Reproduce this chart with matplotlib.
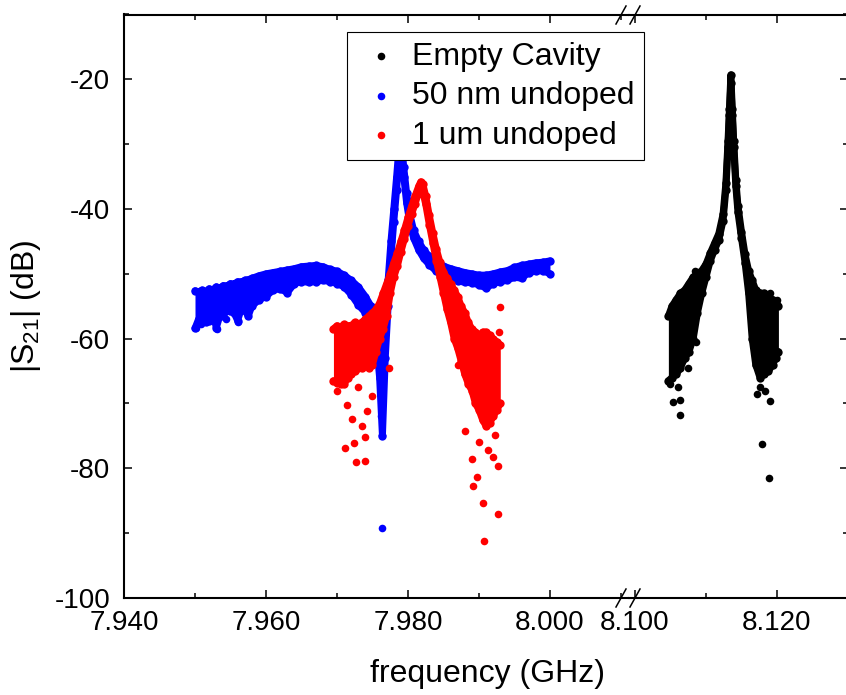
import matplotlib.pyplot as plt
from matplotlib.lines import Line2D
from matplotlib.ticker import FormatStrFormatter

plt.rcParams['font.family'] = ['Liberation Sans', 'DejaVu Sans']
plt.rcParams['mathtext.default'] = 'regular'
plt.rcParams['axes.unicode_minus'] = False

# ---- data: frequency (GHz), upper / lower edge of the dot cloud (dB)
empty_f = [8.1047, 8.1052, 8.1058, 8.1064, 8.1070, 8.1076, 8.1082, 8.1088, 8.1094, 8.1100,
           8.1106, 8.1112, 8.1118, 8.1124, 8.1128, 8.1131, 8.1133, 8.1135, 8.1137, 8.1139,
           8.1142, 8.1145, 8.1150, 8.1155, 8.1160, 8.1165, 8.1170, 8.1176, 8.1182, 8.1188,
           8.1194, 8.1198, 8.1202]
empty_hi = [-56.5, -55.0, -54.0, -53.0, -52.5, -51.5, -50.5, -50.0, -49.5, -48.5,
            -46.8, -45.3, -43.8, -40.8, -36.0, -29.5, -24.5, -19.3, -24.5, -29.5,
            -35.5, -39.5, -43.5, -47.0, -49.5, -51.0, -52.5, -53.0, -53.0, -53.5,
            -54.0, -54.5, -55.0]
empty_lo = [-66.5, -66.0, -65.5, -64.5, -63.0, -62.0, -60.0, -56.0, -53.0, -50.5,
            -48.0, -46.3, -44.8, -41.8, -37.0, -30.5, -25.5, -20.5, -25.5, -30.5,
            -36.5, -40.5, -44.5, -48.3, -53.0, -60.0, -64.0, -66.0, -65.5, -65.0,
            -64.0, -63.0, -62.0]
empty_pts_f = [8.1053, 8.1063, 8.1064, 8.1084, 8.1179, 8.1189, 8.1172, 8.1183, 8.1190, 8.1176,
               8.1060, 8.1190, 8.1050, 8.1200, 8.1074, 8.1086]
empty_pts_db = [-69.7, -69.5, -71.8, -49.5, -76.3, -81.5, -68.5, -68.0, -69.6, -67.5,
                -67.5, -53.0, -67.0, -54.0, -64.5, -60.5]

nm50_f = [7.9500, 7.9505, 7.9510, 7.9515, 7.9520, 7.9525, 7.9530, 7.9535, 7.9540, 7.9545,
          7.9550, 7.9555, 7.9560, 7.9565, 7.9570, 7.9575, 7.9580, 7.9590, 7.9600, 7.9610,
          7.9620, 7.9630, 7.9640, 7.9650, 7.9660, 7.9670, 7.9680, 7.9690, 7.9700, 7.9710,
          7.9720, 7.9730, 7.9740, 7.9748, 7.9755, 7.9760, 7.9764, 7.9768, 7.9772, 7.9776,
          7.9780, 7.9784, 7.9788, 7.9791, 7.9794, 7.9798, 7.9803, 7.9808, 7.9815, 7.9822,
          7.9830, 7.9840, 7.9850, 7.9860, 7.9870, 7.9880, 7.9890, 7.9900, 7.9910, 7.9920,
          7.9930, 7.9940, 7.9950, 7.9960, 7.9970, 7.9980, 7.9990, 8.0000]
nm50_hi = [-52.6, -52.8, -52.5, -52.8, -52.3, -52.5, -52.0, -52.2, -51.8, -51.9,
           -51.5, -51.6, -51.2, -51.3, -51.0, -50.9, -50.7, -50.3, -50.0, -49.8,
           -49.6, -49.4, -49.2, -48.9, -48.8, -48.7, -48.9, -49.3, -49.6, -50.2,
           -51.0, -52.0, -53.5, -55.0, -57.5, -60.5, -64.0, -58.0, -51.0, -45.0,
           -40.0, -35.0, -29.5, -30.0, -33.5, -37.5, -41.0, -43.3, -45.0, -46.3,
           -47.3, -48.3, -48.8, -49.2, -49.5, -49.8, -50.0, -50.2, -50.2, -50.0,
           -49.7, -49.5, -49.0, -48.7, -48.5, -48.3, -48.2, -48.0]
nm50_lo = [-58.4, -57.0, -56.5, -57.5, -57.2, -56.0, -58.3, -56.5, -56.5, -55.5,
           -55.8, -56.0, -57.2, -55.5, -55.6, -56.5, -55.0, -54.0, -53.5, -52.5,
           -52.3, -52.9, -51.5, -51.2, -51.3, -51.2, -51.0, -51.2, -51.5, -52.0,
           -53.2, -54.8, -56.0, -57.5, -60.0, -66.0, -75.0, -63.0, -55.0, -47.5,
           -42.0, -37.0, -31.0, -31.5, -35.0, -39.0, -42.5, -44.5, -46.3, -47.6,
           -48.6, -49.6, -50.3, -50.8, -51.1, -51.3, -51.4, -51.7, -52.2, -51.5,
           -51.2, -51.0, -50.5, -50.7, -49.8, -49.6, -49.5, -50.0]
nm50_pts_f = [7.97633, 7.9762, 7.9764, 7.9501, 7.9531, 7.9561, 7.9508, 7.9543]
nm50_pts_db = [-89.2, -72.0, -74.9, -58.4, -58.5, -57.5, -57.8, -57.0]

um1_f = [7.9695, 7.9700, 7.9705, 7.9710, 7.9715, 7.9720, 7.9725, 7.9730, 7.9735, 7.9740,
         7.9745, 7.9750, 7.9755, 7.9760, 7.9765, 7.9770, 7.9775, 7.9780, 7.9785, 7.9790,
         7.9795, 7.9800, 7.9805, 7.9810, 7.9815, 7.9818, 7.9821, 7.9825, 7.9830, 7.9835,
         7.9840, 7.9845, 7.9850, 7.9855, 7.9860, 7.9865, 7.9870, 7.9875, 7.9880, 7.9885,
         7.9890, 7.9895, 7.9900, 7.9905, 7.9910, 7.9915, 7.9920, 7.9925, 7.9930]
um1_hi = [-58.5, -58.0, -58.2, -57.8, -58.0, -58.0, -57.5, -57.8, -57.5, -57.0,
          -56.5, -56.0, -55.5, -54.5, -53.0, -51.5, -50.0, -48.3, -46.8, -45.0,
          -43.2, -41.3, -39.6, -38.0, -36.5, -35.8, -36.2, -38.0, -41.0, -43.7,
          -46.2, -48.2, -49.7, -50.7, -51.5, -52.5, -53.5, -55.0, -56.0, -57.5,
          -58.5, -59.0, -59.5, -59.0, -59.0, -59.5, -60.0, -60.5, -61.0]
um1_lo = [-66.5, -66.8, -67.0, -67.0, -66.0, -65.5, -65.0, -64.5, -64.5, -64.0,
          -64.5, -64.0, -62.0, -60.0, -58.5, -56.5, -53.0, -50.5, -48.8, -46.6,
          -44.6, -42.6, -40.8, -39.2, -37.4, -36.8, -37.4, -39.3, -42.4, -45.2,
          -48.0, -50.5, -53.0, -55.5, -57.5, -60.0, -61.5, -63.5, -65.5, -67.0,
          -68.0, -70.0, -71.0, -72.5, -73.5, -73.0, -72.0, -71.0, -70.0]
um1_pts_f = [7.97109, 7.97268, 7.97399, 7.97390, 7.97235, 7.97142, 7.97210, 7.97350, 7.97493,
             7.97727, 7.97423, 7.99297, 7.99077, 7.99264, 7.99063, 7.98913, 7.98969,
             7.98805, 7.98900, 7.99200, 7.99274, 7.99133, 7.99220, 7.99000, 7.98700,
             7.97000, 7.97300, 7.99280]
um1_pts_db = [-76.9, -79.1, -78.8, -75.2, -76.1, -70.3, -72.4, -73.4, -68.8,
              -64.5, -71.2, -55.1, -91.2, -87.1, -85.4, -82.7, -81.3,
              -74.3, -78.5, -78.2, -79.6, -77.2, -74.9, -76.0, -64.0,
              -68.0, -67.5, -59.0]

labels = ['Empty Cavity', '50 nm undoped', '1 um undoped']
colors = ['black', 'blue', 'red']

W, H = 846, 695
fig = plt.figure(figsize=(W / 100, H / 100), dpi=100)
ax1 = fig.add_axes([124 / W, 1 - 598 / H, 505 / W, 583.5 / H])
ax2 = fig.add_axes([629 / W, 1 - 598 / H, 219 / W, 583.5 / H], sharey=ax1)


def cloud(ax, f, hi, lo, pf, pdb, color, label, z):
    ax.fill_between(f, lo, hi, color=color, lw=0, zorder=z)
    for edge in (hi, lo):
        ax.plot(f, edge, color=color, lw=5.0, marker='o', ms=6, mew=0,
                solid_joinstyle='round', solid_capstyle='round', zorder=z)
    return ax.scatter(pf, pdb, s=30, color=color, lw=0, zorder=z, label=label)


h0 = cloud(ax2, empty_f, empty_hi, empty_lo, empty_pts_f, empty_pts_db, colors[0], labels[0], 2)
h1 = cloud(ax1, nm50_f, nm50_hi, nm50_lo, nm50_pts_f, nm50_pts_db, colors[1], labels[1], 2)
h2 = cloud(ax1, um1_f, um1_hi, um1_lo, um1_pts_f, um1_pts_db, colors[2], labels[2], 3)

ax1.set_xlim(7.940, 8.01113)
ax2.set_xlim(8.099155, 8.130)
ax1.set_ylim(-100, -10)

ax1.set_xticks([7.94, 7.96, 7.98, 8.00])
ax1.set_xticks([7.95, 7.97, 7.99, 8.01], minor=True)
ax2.set_xticks([8.10, 8.12])
ax2.set_xticks([8.11, 8.13], minor=True)
ax1.set_yticks([-100, -80, -60, -40, -20])
ax1.set_yticks([-90, -70, -50, -30, -10], minor=True)
for ax in (ax1, ax2):
    ax.xaxis.set_major_formatter(FormatStrFormatter('%.3f'))
    ax.yaxis.set_major_formatter(FormatStrFormatter('%d'))
    ax.tick_params(which='both', direction='in', top=True, width=1.1, labelsize=20)
    ax.tick_params(which='major', length=5.8)
    ax.tick_params(which='minor', length=3.3)
    ax.tick_params(axis='x', which='both', pad=9)
    ax.tick_params(axis='y', which='both', pad=10)
    for s in ax.spines.values():
        s.set_linewidth(1.5)
ax1.tick_params(which='both', right=False)
ax2.tick_params(which='both', left=False, right=True, labelleft=False)
ax1.spines['right'].set_visible(False)
ax2.spines['left'].set_visible(False)

ax1.set_xlabel('frequency (GHz)', fontsize=23)
ax1.xaxis.set_label_coords((487 - 124) / 505, (598 - 659) / 583.5)
ax1.set_ylabel('|S$_{21}$| (dB)', fontsize=23)
ax1.yaxis.set_label_coords((43 - 124) / 505, 0.5)

# axis break marks
for yp in (15, 598):
    for xc in (621, 635):
        fig.add_artist(Line2D([(xc - 5) / W, (xc + 5) / W], [1 - (yp + 9) / H, 1 - (yp - 9) / H],
                              color='black', lw=1.1, transform=fig.transFigure))

leg = fig.legend([h0, h1, h2], labels, loc='upper left',
                 bbox_to_anchor=(347 / W, 1 - 32 / H), bbox_transform=fig.transFigure,
                 fontsize=23, frameon=True, fancybox=False, edgecolor='black', framealpha=1,
                 handlelength=1.5, handletextpad=0.22, borderpad=0.3, labelspacing=0.3,
                 borderaxespad=0, scatterpoints=1)
leg.get_frame().set_linewidth(0.8)

fig.savefig('out.png', dpi=100)
